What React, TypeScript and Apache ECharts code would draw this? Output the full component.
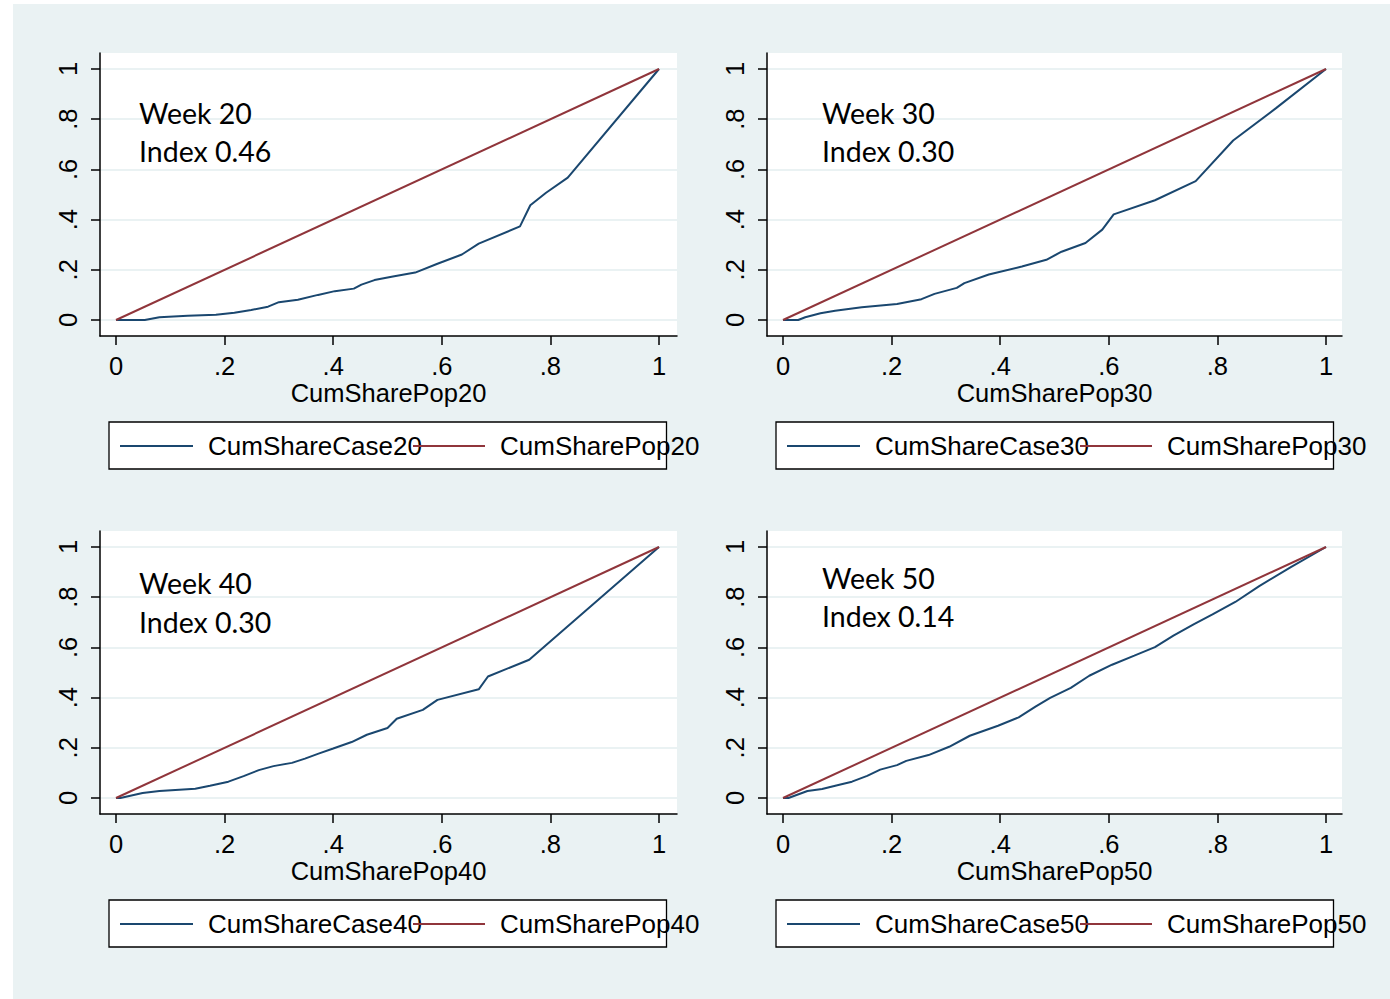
import React, { useEffect, useRef } from "react";
import * as echarts from "echarts";

// ---- data ----
const weeks = ["20", "30", "40", "50"];
const indexValues = ["0.46", "0.30", "0.30", "0.14"];
const tickValues = [0, 0.2, 0.4, 0.6, 0.8, 1];
const popDiagonal = [0, 1];

const popShare20 = [0, 0.053, 0.08, 0.132, 0.184, 0.218, 0.249, 0.28, 0.3, 0.335, 0.372, 0.403, 0.438, 0.452, 0.476, 0.51, 0.551, 0.592, 0.637, 0.668, 0.744, 0.763, 0.792, 0.832, 1];
const caseShare20 = [0, 0, 0.011, 0.017, 0.021, 0.029, 0.04, 0.053, 0.071, 0.081, 0.1, 0.115, 0.125, 0.141, 0.159, 0.173, 0.189, 0.224, 0.261, 0.304, 0.373, 0.457, 0.507, 0.567, 1];

const popShare30 = [0, 0.028, 0.041, 0.069, 0.096, 0.145, 0.21, 0.255, 0.279, 0.32, 0.334, 0.379, 0.44, 0.485, 0.513, 0.557, 0.588, 0.609, 0.685, 0.76, 0.829, 0.908, 1];
const caseShare30 = [0, 0, 0.011, 0.027, 0.037, 0.051, 0.064, 0.083, 0.104, 0.128, 0.147, 0.181, 0.213, 0.24, 0.272, 0.307, 0.36, 0.421, 0.477, 0.553, 0.715, 0.844, 1];

const popShare40 = [0, 0.008, 0.049, 0.08, 0.146, 0.173, 0.207, 0.235, 0.263, 0.29, 0.324, 0.348, 0.373, 0.4, 0.434, 0.462, 0.5, 0.517, 0.565, 0.592, 0.668, 0.685, 0.761, 1];
const caseShare40 = [0, 0, 0.02, 0.028, 0.037, 0.049, 0.065, 0.087, 0.111, 0.127, 0.14, 0.157, 0.177, 0.197, 0.223, 0.252, 0.279, 0.316, 0.351, 0.391, 0.433, 0.484, 0.551, 1];

const popShare50 = [0, 0.01, 0.045, 0.072, 0.1, 0.127, 0.155, 0.179, 0.21, 0.227, 0.268, 0.306, 0.344, 0.396, 0.434, 0.465, 0.492, 0.53, 0.564, 0.606, 0.647, 0.685, 0.719, 0.757, 0.791, 0.833, 0.877, 0.936, 1];
const caseShare50 = [0, 0, 0.028, 0.036, 0.051, 0.065, 0.088, 0.113, 0.131, 0.148, 0.171, 0.204, 0.248, 0.288, 0.321, 0.364, 0.399, 0.439, 0.487, 0.531, 0.567, 0.601, 0.647, 0.693, 0.732, 0.781, 0.844, 0.921, 1];

const popShares = [popShare20, popShare30, popShare40, popShare50];
const caseShares = [caseShare20, caseShare30, caseShare40, caseShare50];

// ---- layout / style ----
const BLUE = "#1a476f";
const RED = "#90353b";
const BG = "#eaf2f3";
const FONT = "'Liberation Sans', Arial, sans-serif";
const ANNOT_FONT = "Lato, 'Open Sans', sans-serif";
const FS = 26;
const AXFS = 25.5;
const AFS = 28.5;

const panelLayout = [
  { left: 100, top: 53, width: 577, textX: 139, t1: 113.5, t2: 152 },
  { left: 767, top: 53, width: 575, textX: 822, t1: 113.5, t2: 152 },
  { left: 100, top: 531, width: 577, textX: 139, t1: 583.5, t2: 622.5 },
  { left: 767, top: 531, width: 575, textX: 822, t1: 578.5, t2: 616.5 },
];
const GRID_H = 283;
const PAD = 16;
const SPAN_X = 543;
const SPAN_Y = 251;

const tickFmt = (v: number) => (v === 0 ? "0" : v === 1 ? "1" : String(+v.toFixed(1)).replace(/^0/, ""));

export default function App() {
  const ref = useRef<HTMLDivElement>(null);
  useEffect(() => {
    if (!ref.current) return;
    const chart = echarts.init(ref.current, null, { renderer: "svg" });

    const grid: any[] = [];
    const xAxis: any[] = [];
    const yAxis: any[] = [];
    const series: any[] = [];
    const graphic: any[] = [];

    panelLayout.forEach((p, i) => {
      const wk = weeks[i];
      const caseName = "CumShareCase" + wk;
      const popName = "CumSharePop" + wk;
      grid.push({
        left: p.left,
        top: p.top,
        width: p.width,
        height: GRID_H,
        show: true,
        backgroundColor: "#ffffff",
        borderWidth: 0,
      });
      xAxis.push({
        type: "value",
        gridIndex: i,
        min: -PAD / SPAN_X,
        max: (p.width - PAD) / SPAN_X,
        name: popName,
        nameLocation: "middle",
        nameGap: 44,
        nameTextStyle: { fontFamily: FONT, fontSize: AXFS, lineHeight: 22, color: "#000" },
        axisLine: { show: true, onZero: false, lineStyle: { color: "#000", width: 1.5 } },
        axisTick: { show: true, length: 9, customValues: tickValues, lineStyle: { color: "#000", width: 1.5 } },
        axisLabel: { customValues: tickValues, formatter: tickFmt, fontFamily: FONT, fontSize: AXFS, lineHeight: 22, color: "#000", margin: 19 },
        splitLine: { show: false },
      });
      yAxis.push({
        type: "value",
        gridIndex: i,
        min: -PAD / SPAN_Y,
        max: 1 + PAD / SPAN_Y,
        axisLine: { show: true, onZero: false, lineStyle: { color: "#000", width: 1.5 } },
        axisTick: { show: true, length: 9, customValues: tickValues, lineStyle: { color: "#000", width: 1.5 } },
        axisLabel: { customValues: tickValues, formatter: tickFmt, rotate: 90, fontFamily: FONT, fontSize: AXFS, color: "#000", margin: 19 },
        splitLine: { show: true, lineStyle: { color: BG, width: 2 } },
      });
      series.push({
        name: caseName,
        type: "line",
        xAxisIndex: i,
        yAxisIndex: i,
        showSymbol: false,
        symbol: "none",
        lineStyle: { color: BLUE, width: 2 },
        itemStyle: { color: BLUE },
        data: popShares[i].map((x, k) => [x, caseShares[i][k]]),
      });
      series.push({
        name: popName,
        type: "line",
        xAxisIndex: i,
        yAxisIndex: i,
        showSymbol: false,
        symbol: "none",
        lineStyle: { color: RED, width: 2 },
        itemStyle: { color: RED },
        data: popDiagonal.map((v) => [v, v]),
      });

      // annotation text
      graphic.push({
        type: "text",
        x: p.textX,
        y: p.t1 - 1,
        z: 100,
        style: { text: "Week " + wk, fontFamily: ANNOT_FONT, fontSize: AFS, fill: "#000", verticalAlign: "middle", align: "left" },
      });
      graphic.push({
        type: "text",
        x: p.textX,
        y: p.t2 - 1,
        z: 100,
        style: { text: "Index " + indexValues[i], fontFamily: ANNOT_FONT, fontSize: AFS, fill: "#000", verticalAlign: "middle", align: "left" },
      });

      // legend box
      const axisY = p.top + GRID_H;
      const ly = axisY + 110;
      graphic.push({
        type: "rect",
        shape: { x: p.left + 9, y: axisY + 86, width: 557.5, height: 47 },
        style: { fill: "#ffffff", stroke: "#000", lineWidth: 1.3 },
        z: 101,
      });
      graphic.push({
        type: "line",
        shape: { x1: p.left + 20, y1: ly, x2: p.left + 93, y2: ly },
        style: { stroke: BLUE, lineWidth: 2.2 },
        z: 102,
      });
      graphic.push({
        type: "text",
        x: p.left + 108,
        y: ly,
        style: { text: caseName, fontFamily: FONT, fontSize: FS, fill: "#000", verticalAlign: "middle", align: "left" },
        z: 102,
      });
      graphic.push({
        type: "line",
        shape: { x1: p.left + 313, y1: ly, x2: p.left + 385, y2: ly },
        style: { stroke: RED, lineWidth: 2.2 },
        z: 103,
      });
      graphic.push({
        type: "text",
        x: p.left + 400,
        y: ly,
        style: { text: popName, fontFamily: FONT, fontSize: FS, fill: "#000", verticalAlign: "middle", align: "left" },
        z: 103,
      });
    });

    chart.setOption({
      animation: false,
      grid,
      xAxis,
      yAxis,
      series,
      graphic,
    });
    return () => chart.dispose();
  }, []);

  return (
    <div style={{ position: "fixed", left: 0, top: 0, width: 1390, height: 999, background: "#ffffff" }}>
      <div style={{ position: "absolute", left: 13, top: 4, width: 1377, height: 995, background: BG }} />
      <div ref={ref} style={{ position: "absolute", left: 0, top: 0, width: 1390, height: 999 }} />
    </div>
  );
}
